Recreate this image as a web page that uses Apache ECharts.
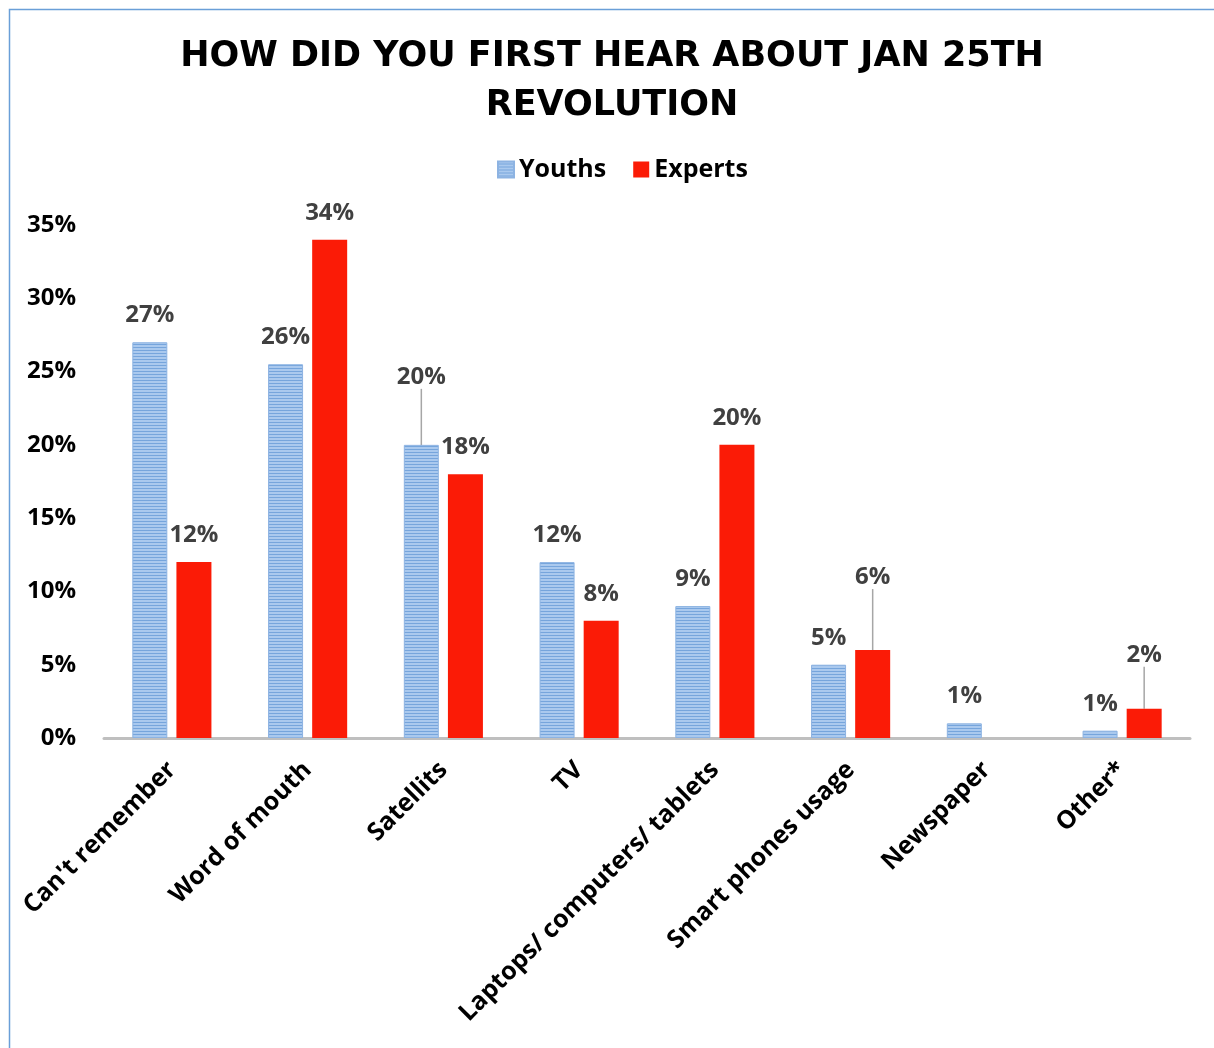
<!DOCTYPE html>
<html>
<head>
<meta charset="utf-8">
<script src="https://cdn.jsdelivr.net/npm/echarts@6/dist/echarts.min.js"></script>
<style>
  html, body { margin: 0; padding: 0; background: #fff; overflow: hidden; }
  #main { width: 1214px; height: 1048px; }
</style>
</head>
<body>
<div id="main"></div>
<script>
var categories = ["Can't remember", 'Word of mouth', 'Satellits', 'TV', 'Laptops/ computers/ tablets', 'Smart phones usage', 'Newspaper', 'Other*'];
var youths = [27, 25.5, 20, 12, 9, 5, 1, 0.5];
var experts = [12, 34, 18, 8, 20, 6, null, 2];

// labels pulled up with a leader line (index -> dy)
var youthLift = { 2: -41 };
var expertLift = { 5: -46, 7: -27 };

// striped fill for the youths bars
var stripe = document.createElement('canvas');
stripe.width = 4;
stripe.height = 3;
var sctx = stripe.getContext('2d');
sctx.fillStyle = '#aac9ee';
sctx.fillRect(0, 0, 4, 3);
sctx.fillStyle = '#76a5dc';
sctx.fillRect(0, 2, 4, 1);

function withLines(values, lift) {
    return values.map(function (v, i) {
        if (lift[i] !== undefined) {
            return { value: v, labelLine: { show: true } };
        }
        return v;
    });
}

var labelFont = { fontFamily: 'Open Sans', fontWeight: 'bold', fontSize: 24 };

var myChart = echarts.init(document.getElementById('main'));

option = {
    animation: false,
    graphic: [{
        type: 'rect',
        left: 7,
        top: 7,
        silent: true,
        shape: { width: 1260, height: 1100 },
        style: { fill: 'none', stroke: '#6a9fd8', lineWidth: 1.5 }
    }],
    title: {
        text: 'HOW DID YOU FIRST HEAR ABOUT JAN 25TH\nREVOLUTION',
        left: 607,
        top: 27,
        textAlign: 'center',
        textStyle: {
            fontFamily: 'DejaVu Sans',
            fontWeight: 'bold',
            fontSize: 35,
            lineHeight: 49,
            color: '#000'
        }
    },
    legend: {
        data: ['Youths', 'Experts'],
        top: 152,
        left: 492,
        itemWidth: 16,
        itemHeight: 16,
        itemGap: 27,
        icon: 'rect',
        textStyle: { fontFamily: 'Open Sans', fontWeight: 'bold', fontSize: 25, color: '#000' }
    },
    grid: {
        left: 104,
        right: 24,
        top: 225,
        bottom: 310,
        containLabel: false
    },
    xAxis: {
        type: 'category',
        data: categories,
        axisLine: { lineStyle: { color: '#bfbfbf', width: 3 } },
        axisTick: { show: false },
        axisLabel: {
            interval: 0,
            rotate: 45,
            margin: 28,
            color: '#000',
            fontFamily: 'Open Sans',
            fontWeight: 'bold',
            fontSize: 25
        }
    },
    yAxis: {
        type: 'value',
        min: 0,
        max: 35,
        interval: 5,
        axisLine: { show: false },
        axisTick: { show: false },
        splitLine: { show: false },
        axisLabel: {
            formatter: '{value}%',
            margin: 28,
            color: '#000',
            fontFamily: 'Open Sans',
            fontWeight: 'bold',
            fontSize: 24
        }
    },
    series: [{
        name: 'Youths',
        type: 'bar',
        data: withLines(youths, youthLift),
        barWidth: 35,
        barGap: '26%',
        itemStyle: {
            color: { image: stripe, repeat: 'repeat' },
            borderColor: '#8db3e2',
            borderWidth: 1
        },
        label: Object.assign({
            show: true,
            position: 'top',
            distance: 15,
            color: '#404040',
            formatter: function (p) { return Math.round(p.value) + '%'; }
        }, labelFont),
        labelLine: { show: false, lineStyle: { color: '#a6a6a6', width: 1.5 } },
        labelLayout: function (p) {
            if (youthLift[p.dataIndex] !== undefined) {
                return { dy: youthLift[p.dataIndex] };
            }
            return {};
        }
    }, {
        name: 'Experts',
        type: 'bar',
        data: withLines(experts, expertLift),
        barWidth: 35,
        itemStyle: { color: '#fb1b06' },
        label: Object.assign({
            show: true,
            position: 'top',
            distance: 15,
            color: '#404040',
            formatter: function (p) { return Math.round(p.value) + '%'; }
        }, labelFont),
        labelLine: { show: false, lineStyle: { color: '#a6a6a6', width: 1.5 } },
        labelLayout: function (p) {
            if (expertLift[p.dataIndex] !== undefined) {
                return { dy: expertLift[p.dataIndex] };
            }
            return {};
        }
    }]
};

myChart.setOption(option);
</script>
</body>
</html>
